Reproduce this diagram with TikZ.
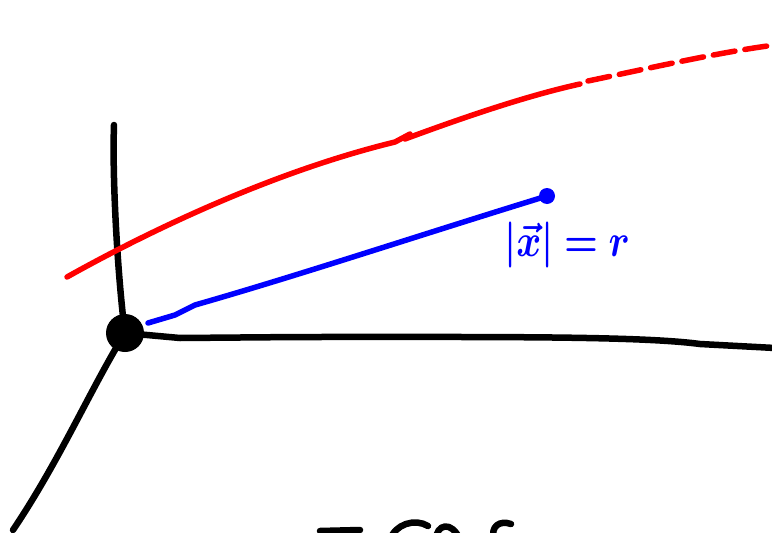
\documentclass[tikz,border=0pt]{standalone}
\usepackage{amsmath,bm}
\begin{document}
\begin{tikzpicture}[x=1pt,y=-1pt,
  pen/.style={line width=6.5pt,line cap=round,line join=round},
  blk/.style={pen,black},
  redpen/.style={pen,red,line width=5.5pt},
  bluepen/.style={pen,blue,line width=5.5pt}]
\useasboundingbox (0,0) rectangle (772,533);
\begin{scope}
\clip (0,0) rectangle (772,533);
% origin dot
\node[circle,fill=black,minimum size=38pt,inner sep=0pt] (o) at (125,333) {};
\node[circle,fill=blue,minimum size=16pt,inner sep=0pt] (tip) at (547,196) {};
\coordinate (ytop) at (114,125);
\coordinate (xend) at (775,348);
\coordinate (zend) at (13,530);
% axes
\draw[blk] (o.center) .. controls (118,280) and (112,180) .. (ytop);
\draw[blk] (o.center) -- (180,338) -- (300,337) .. controls (500,337) and (640,336) .. (700,344) -- (xend);
\draw[blk] (o.center) .. controls (90,390) and (60,460) .. (zend);
% red curve
\draw[redpen] (67,277) .. controls (160,225) and (280,170) .. (395,142) -- (410,134);
\draw[redpen] (405,139) .. controls (470,115) and (530,95) .. (580,84);
\draw[redpen,dash pattern=on 22pt off 10pt] (588,81) .. controls (650,68) and (720,52) .. (775,45);
% blue vector
\draw[bluepen] (148,323) -- (175,315) -- (195,305) .. controls (300,275) and (420,235) .. (tip.center);
\node[blue] (lab) at (567,245) {\scalebox{3.8}[4.6]{$\bm{|\vec{x}|=r}$}};
% cut-off text at bottom
\draw[blk] (320,531) -- (360,530);
\draw[blk] (390,540) .. controls (395,524) and (415,518) .. (428,526);
\draw[blk] (436,540) .. controls (436,524) and (452,520) .. (460,540);
\draw[blk] (494,540) .. controls (490,526) and (500,520) .. (511,524);
\end{scope}
\end{tikzpicture}
\end{document}
